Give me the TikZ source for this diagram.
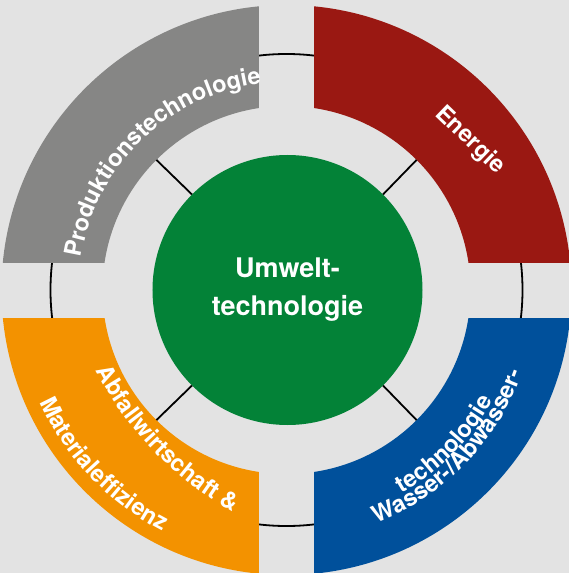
\documentclass[tikz,border=0pt]{standalone}
\usepackage{fontspec}
\setmainfont{TeX Gyre Heros}
\usepackage{tikz}
\usetikzlibrary{decorations.text}
\definecolor{bgGrey}{RGB}{227,227,227}
\definecolor{prodGrey}{RGB}{134,134,133}
\definecolor{enRed}{RGB}{154,24,18}
\definecolor{umGreen}{RGB}{3,130,55}
\definecolor{waBlue}{RGB}{0,80,155}
\definecolor{abOrange}{RGB}{243,146,0}
\newcommand{\seglabel}{\fontsize{23.5}{28}\selectfont\bfseries}
\newcommand{\corelabel}{\fontsize{27}{38}\selectfont\bfseries}
\tikzset{
  spoke/.style={line width=1.8pt},
  arclabel/.style={decorate, decoration={text along path, text color=white, text align=left}},
}

\begin{document}
\begin{tikzpicture}[x=1pt,y=1pt]
            \useasboundingbox (-286.5,-283) rectangle (282.5,290);
            \fill[bgGrey] (-286.5,-283) rectangle (282.5,290);

            \draw[spoke] (0:0) circle (236);

            \foreach \col/\xa/\ya/\xb/\yb in {prodGrey/-286.5/28/-27.5/290, enRed/27.5/28/282.5/290,
                                             waBlue/27.5/-283/282.5/-28, abOrange/-286.5/-283/-27.5/-28}{
              \begin{scope}
                \clip (\xa,\ya) rectangle (\xb,\yb);
                \fill[\col, even odd rule] (0:0) circle (285) (0:0) circle (184);
              \end{scope}
            }

            \node[circle, fill=umGreen, minimum size=270pt, inner sep=0pt, text=white, align=center, font=\corelabel] (core) at (1,0) {Umwelt-\\technologie};

            \foreach \a in {45,135,225,315}{
              \coordinate (rim\a) at (\a:184);
              \draw[spoke] (core.\a) -- (rim\a);
            }

            \path[arclabel, decoration={text={|\seglabel|Produktionstechnologie}}] (171:208) arc[start angle=171, end angle=90, radius=208];
            \node[rotate=-44, anchor=base, text=white, font=\seglabel] (energie) at (179,145) {Energie};
            \path[arclabel, decoration={text={|\seglabel|Wasser-/Abwasser-}}] (-69:250) arc[start angle=-69, end angle=0, radius=250];
            \path[arclabel, decoration={text={|\seglabel|technologie}}] (-60.5:234) arc[start angle=-60.5, end angle=0, radius=234];
            \path[arclabel, decoration={text={|\seglabel|Abfallwirtschaft {\&}}}] (-190.5,-80.7) arc[start angle=207.3, end angle=262, radius=340];
            \path[arclabel, decoration={text={|\seglabel|Materialeffizienz}}] (204.4:271) arc[start angle=204.4, end angle=270, radius=271];
        \end{tikzpicture}
\end{document}
